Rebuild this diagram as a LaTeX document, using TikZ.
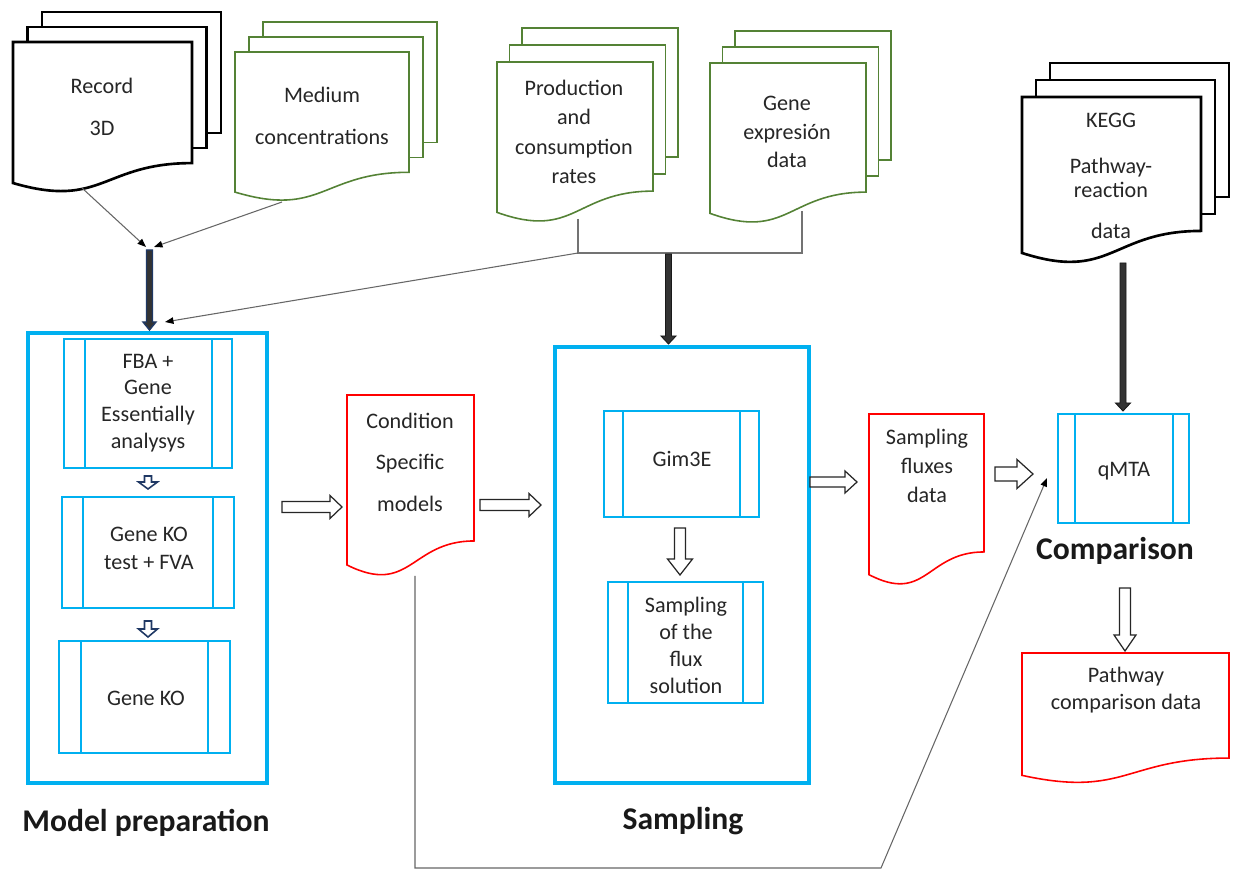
\documentclass[tikz,border=0pt]{standalone}
\usepackage{fontspec}
\setmainfont{Carlito}
\usetikzlibrary{arrows.meta}
\definecolor{cyanc}{RGB}{0,176,240}
\definecolor{greenc}{RGB}{84,130,53}
\definecolor{redc}{RGB}{255,0,0}
\definecolor{navyc}{RGB}{31,56,100}
\definecolor{darkg}{RGB}{51,51,51}
\tikzset{
 txt/.style={font=\fontsize{12.6}{14}\selectfont, align=center, inner sep=0pt, text=black!85},
 thinarrow/.style={draw=black!60, line width=0.6pt, -{Triangle[length=0.17cm,width=0.13cm,black]}},
 thinline/.style={draw=black!55, line width=0.6pt},
 blackdoc/.style={draw=black, line width=1.5pt, fill=white, line join=miter},
 greendoc/.style={draw=greenc, line width=0.9pt, fill=white},
 reddoc/.style={draw=redc, line width=0.9pt, fill=white},
 bigbox/.style={draw=cyanc, line width=2.3pt},
 procline/.style={draw=cyanc, line width=0.85pt},
 hollow/.style={draw=black!85, line width=0.7pt, fill=white, line join=miter},
 navyhollow/.style={draw=navyc, line width=0.9pt, fill=white, line join=miter},
 navythick/.style={draw=navyc, line width=0.8pt, fill=darkg, line join=miter},
 grayhick/.style={draw=black!90, line width=0.5pt, fill=darkg, line join=miter},
 biglabel/.style={font=\fontsize{18}{21}\selectfont\bfseries, inner sep=0pt, text=black!90}
}
% document shape: style, left, top, right, height
\newcommand\docshape[5]{\draw[#1] (#2,#3) -- (#4,#3) -- (#4,{#3+0.802*#5}) .. controls ({(#2+#4)/2},{#3+0.802*#5}) and ({(#2+#4)/2},{#3+1.1075*#5}) .. (#2,{#3+0.934*#5}) -- cycle;}
% stack of documents: style, left, top, right, height, dx, dy
\newcommand\docstack[7]{%
 \draw[#1] ({#2+2*#6},{#3-2*#7}) rectangle ({#4+2*#6},{#3+0.802*#5-2*#7});
 \draw[#1] ({#2+#6},{#3-#7}) rectangle ({#4+#6},{#3+0.802*#5-#7});
 \docshape{#1}{#2}{#3}{#4}{#5}}
% predefined process: left top right bottom innerleft innerright
\newcommand\procbox[6]{\draw[procline] (#1,#2) rectangle (#3,#4); \draw[procline] (#5,#2) -- (#5,#4) (#6,#2) -- (#6,#4);}
% block arrows: style, x, y1, y2, shafthalf, headhalf, headlen
\newcommand\downarr[7]{\draw[#1] ({#2-#5},#3) -- ({#2-#5},{#4-#7}) -- ({#2-#6},{#4-#7}) -- (#2,#4) -- ({#2+#6},{#4-#7}) -- ({#2+#5},{#4-#7}) -- ({#2+#5},#3) -- cycle;}
% style, x1, x2, y, shafthalf, headhalf, headlen
\newcommand\rightarr[7]{\draw[#1] (#2,{#4-#5}) -- ({#3-#7},{#4-#5}) -- ({#3-#7},{#4-#6}) -- (#3,#4) -- ({#3-#7},{#4+#6}) -- ({#3-#7},{#4+#5}) -- (#2,{#4+#5}) -- cycle;}
\begin{document}
\begin{tikzpicture}[x=0.02cm,y=-0.02cm]
\useasboundingbox[fill=white] (0,0) rectangle (1235,871);

% ---- input documents
\docstack{blackdoc}{13}{42}{192}{151}{14.5}{15}
\node[txt, font=\fontsize{12.6}{23.9}\selectfont] (rec) at (102,107) {Record\\3D};
\docstack{greendoc}{235}{52}{409}{150}{14}{15}
\node[txt, font=\fontsize{12.6}{23.9}\selectfont] (med) at (322,116) {Medium\\concentrations};
\docstack{greendoc}{497}{62}{653}{161}{12.5}{17}
\node[txt, font=\fontsize{12.6}{16.7}\selectfont] (prod) at (574,132) {Production\\and\\consumption\\rates};
\docstack{greendoc}{710}{63}{866}{161}{12.5}{16}
\node[txt, font=\fontsize{12.6}{16.2}\selectfont] (gexp) at (787,132) {Gene\\expresión\\data};
\docstack{blackdoc}{1022}{97}{1201}{167}{14}{17}
\node[txt, font=\fontsize{12.6}{13.7}\selectfont] (kegg) at (1111,176) {KEGG\\[0.44cm]Pathway-\\reaction\\[0.34cm]data};

% ---- connector points
\coordinate (rec-out) at (82,188);
\coordinate (med-out) at (282,202);
\coordinate (nav-in1) at (146,247);
\coordinate (nav-in2) at (154,247);
\coordinate (prod-out) at (578,219);
\coordinate (gexp-out) at (802,211);
\coordinate (brk-l) at (578,253);
\coordinate (brk-r) at (802,253);
\coordinate (mp-in) at (165,322);

\draw[thinarrow] (rec-out) -- (nav-in1);
\draw[thinarrow] (med-out) -- (nav-in2);
\draw[thinline] (prod-out) -- (brk-l) -- (brk-r) -- (gexp-out);
\draw[thinarrow] (brk-l) -- (mp-in);

% thick arrows
\downarr{navythick}{149.5}{250}{330}{3}{6.5}{8}
\downarr{grayhick}{668.5}{254}{344}{3}{7.5}{8}
\downarr{grayhick}{1123}{263}{411}{3}{7.5}{8}

% ---- Model preparation
\draw[bigbox] (28,333) rectangle (267,783);
\procbox{64}{339}{232}{468}{85}{212}
\node[txt, font=\fontsize{12.6}{15.2}\selectfont] (fba) at (148,403) {FBA +\\Gene\\Essentially\\analysys};
\downarr{navyhollow}{148}{476}{489}{3.5}{9.5}{7}
\procbox{62}{497}{234}{608}{83}{213}
\node[txt, font=\fontsize{12.6}{15.9}\selectfont] (gkot) at (149,548) {Gene KO\\test + FVA};
\downarr{navyhollow}{148}{621}{637}{3.5}{9.5}{8}
\procbox{59}{641}{230}{753}{81}{208}
\node[txt] (gko) at (146,698) {Gene KO};
\node[biglabel] (lmp) at (146,823) {Model preparation};

% ---- Condition specific models
\rightarr{hollow}{282}{342}{507}{5.5}{11.5}{12}
\docshape{reddoc}{347}{395}{474}{182}
\node[txt, font=\fontsize{12.6}{23.6}\selectfont] (csm) at (410,462) {Condition\\Specific\\models};
\rightarr{hollow}{480}{541}{505}{5.5}{11.5}{12}

% ---- Sampling
\draw[bigbox] (555,347) rectangle (809,783);
\procbox{604}{411}{759}{517}{623}{740}
\node[txt] (gim) at (682,459) {Gim3E};
\downarr{hollow}{680}{528}{575}{5.5}{12.5}{16}
\procbox{608}{582}{763}{703}{628}{743}
\node[txt, font=\fontsize{12.6}{15.4}\selectfont] (sflux) at (686,645) {Sampling\\of the\\flux\\solution};
\node[biglabel] (lsamp) at (683,821) {Sampling};

% ---- Sampling fluxes data
\rightarr{hollow}{810}{857}{482}{5}{11}{12}
\docshape{reddoc}{869}{414}{984}{172}
\node[txt, font=\fontsize{12.6}{16.5}\selectfont] (sfd) at (927,466) {Sampling\\fluxes\\data};
\rightarr{hollow}{995}{1033}{474}{7}{14.5}{16}

% ---- Comparison
\procbox{1058}{414}{1189}{523}{1075}{1173}
\node[txt] (qmta) at (1124,471) {qMTA};
\node[biglabel] (lcomp) at (1115,551) {Comparison};
\downarr{hollow}{1125}{588}{651}{5.5}{11}{16}
\docshape{reddoc}{1022}{653}{1229}{131}
\node[txt, font=\fontsize{12.6}{15.4}\selectfont] (pcd) at (1126,690) {Pathway\\comparison data};

% ---- long connector from condition specific models to qMTA
\coordinate (csm-out) at (415,576);
\coordinate (bl) at (415,868);
\coordinate (br) at (881,868);
\coordinate (qm-in) at (1047,478);
\draw[thinarrow] (csm-out) -- (bl) -- (br) -- (qm-in);
\end{tikzpicture}
\end{document}
